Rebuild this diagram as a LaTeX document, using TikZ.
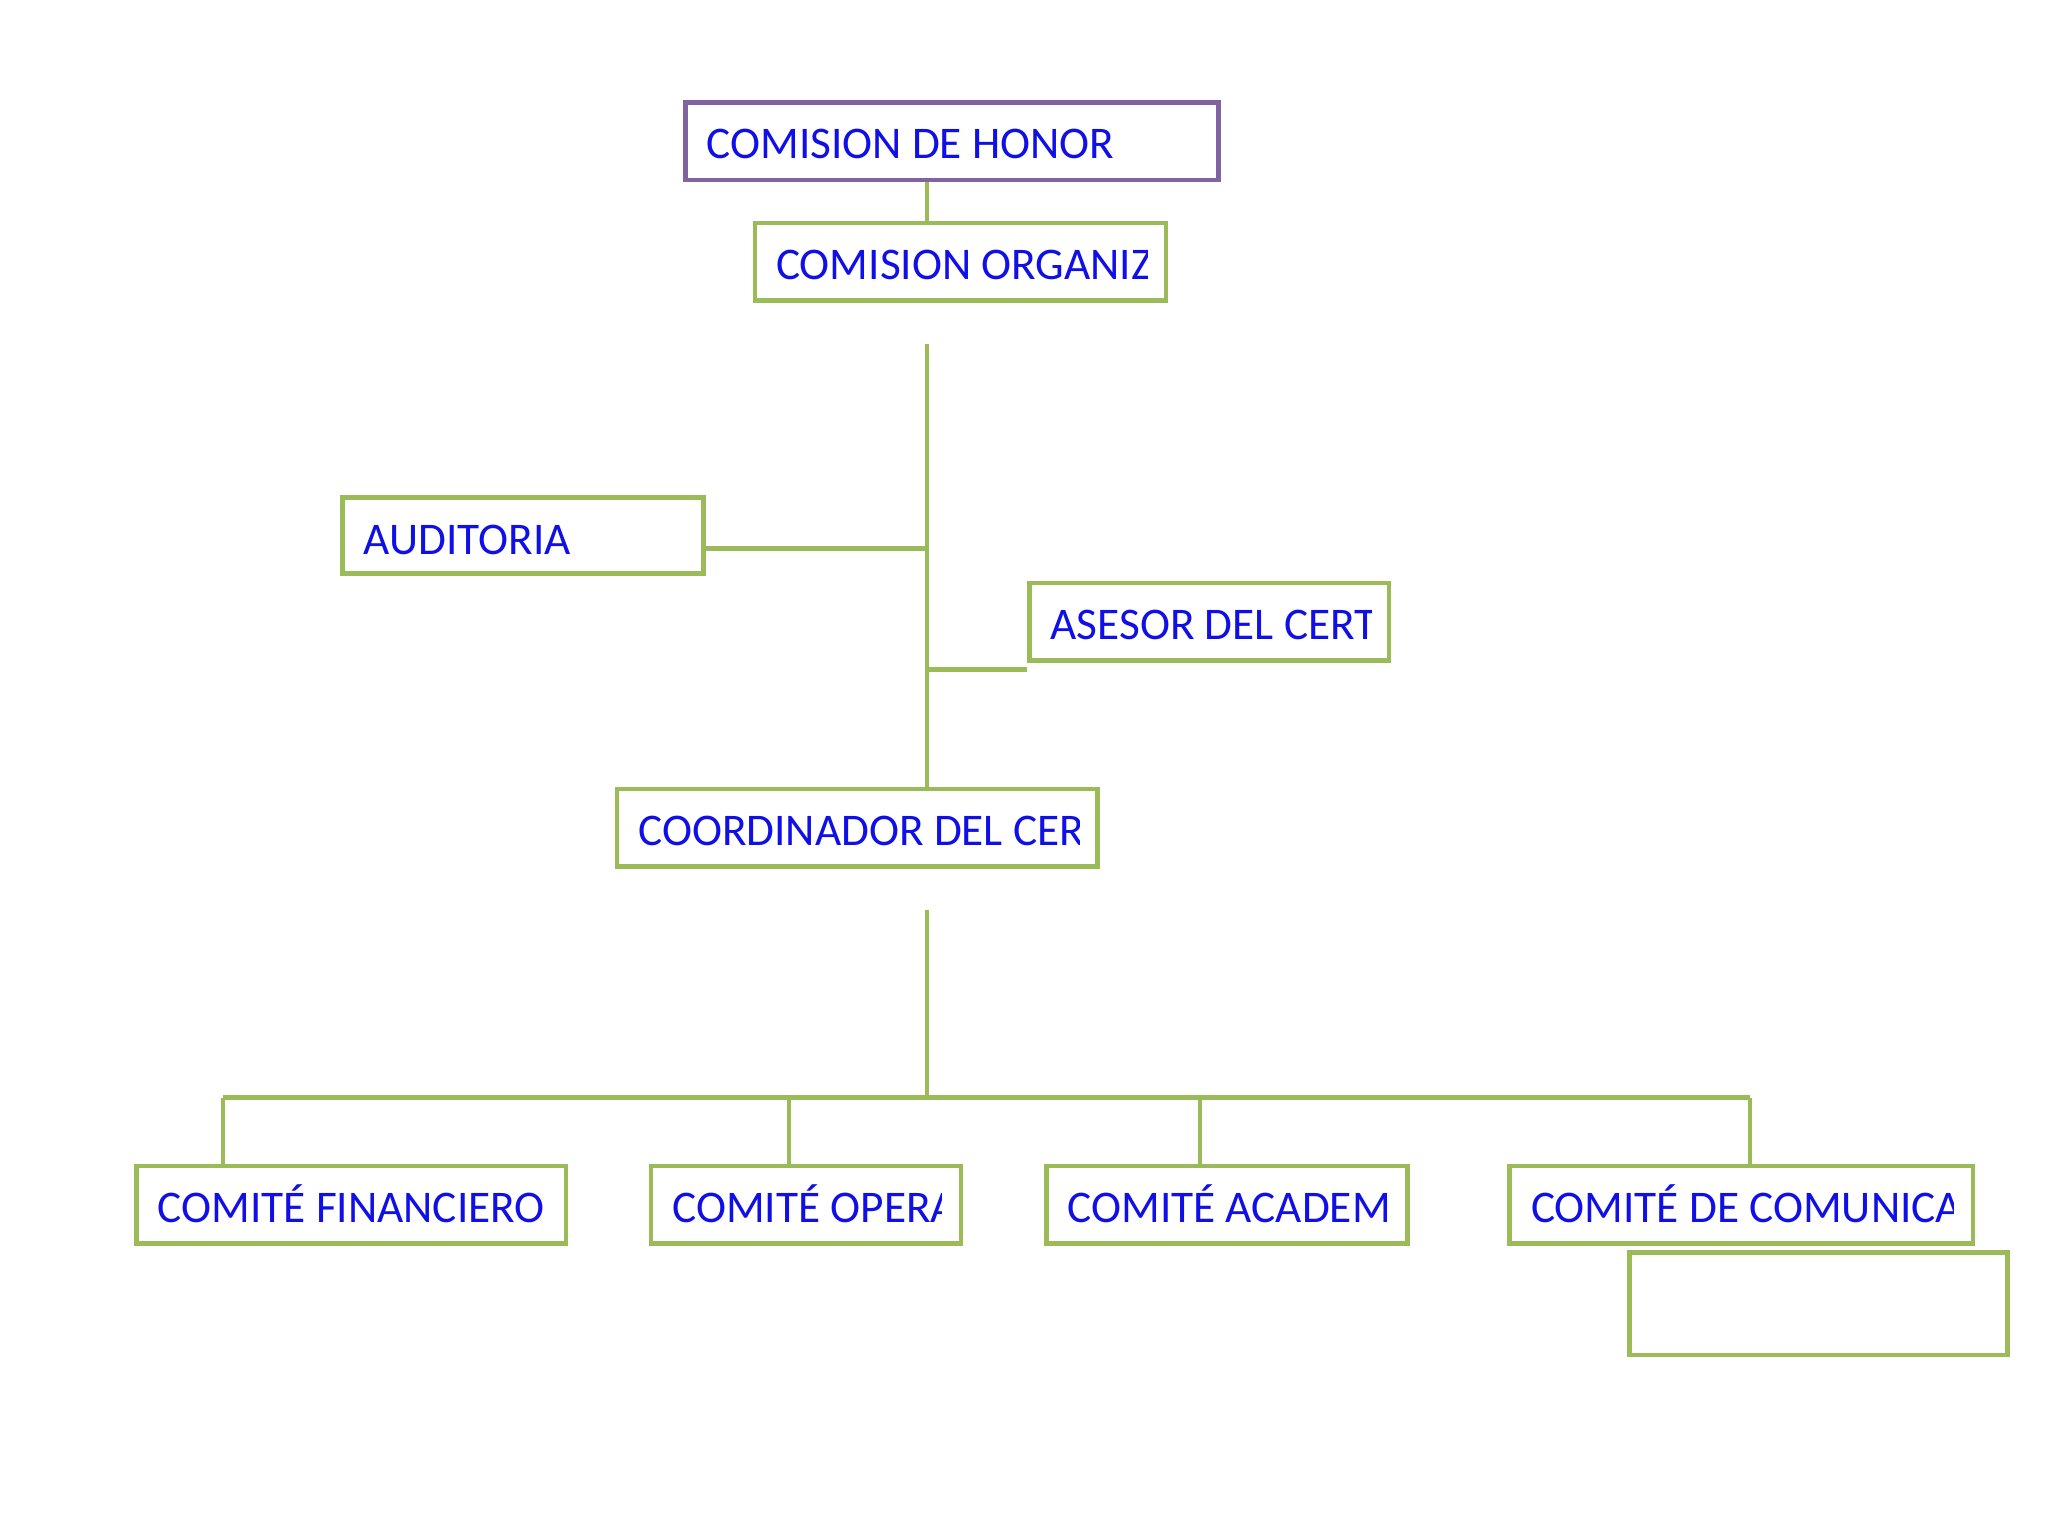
\documentclass[tikz,border=0pt]{standalone}
\usepackage{fontspec}
\setmainfont{Carlito}
\definecolor{gr}{RGB}{155,187,89}
\definecolor{pu}{RGB}{128,100,162}
\definecolor{tx}{RGB}{16,16,230}
\begin{document}
\begin{tikzpicture}[x=1pt,y=-1pt,
  box/.style={draw=gr,line width=3.5pt,rectangle,inner sep=0},
  ln/.style={draw=gr,line width=3.5pt},
  lbl/.style={anchor=base west,text=tx,font=\fontsize{34.5}{34.5}\selectfont,inner sep=0}]
\useasboundingbox (0,0) rectangle (1560,1170);
\newcommand\bx[5]{% name, x1,y1,x2,y2
  \node[box,minimum width={#4-#2},minimum height={#5-#3}] (#1) at ({(#2+#4)/2},{(#3+#5)/2}) {};}
\newcommand\tx[5]{% x1, baseline, clipx, ytop, text
  \begin{scope}\clip (#1,#4) rectangle (#3,{#4+60});
  \node[lbl] at (#1+16,#2) {#5};\end{scope}}
\bx{org}{575}{170}{888}{229}
\bx{aud}{261}{379}{536}{437}
\bx{ase}{784}{444}{1058}{503}
\bx{coo}{470}{601}{836}{660}
\bx{fin}{104}{888}{431}{947}
\bx{ope}{496}{888}{732}{947}
\bx{aca}{797}{888}{1072}{947}
\bx{com}{1150}{888}{1503}{947}
\bx{emp}{1241}{954}{1529}{1032}
\node[box,draw=pu,minimum width=406,minimum height=59] (honor) at (725,107.5) {};
\tx{522}{121}{928}{80}{COMISION DE HONOR}
\tx{575}{213}{874}{172}{COMISION ORGANIZADORA}
\tx{261}{422}{536}{381}{AUDITORIA}
\tx{784}{487}{1045}{446}{ASESOR DEL CERTAMEN}
\tx{470}{644}{822}{603}{COORDINADOR DEL CERTAMEN}
\tx{104}{931}{431}{890}{COMITÉ FINANCIERO}
\tx{496}{931}{717}{890}{COMITÉ OPERATIVO}
\tx{797}{931}{1057}{890}{COMITÉ ACADEMICO}
\tx{1150}{931}{1488}{890}{COMITÉ DE COMUNICACIONES}
\coordinate (a1) at (706,262); \coordinate (a2) at (706,418);
\coordinate (a3) at (706,510); \coordinate (b1) at (706,693);
\coordinate (b2) at (706,836); \coordinate (l) at (170,836); \coordinate (r) at (1333,836);
\draw[ln] (honor.south -| 706,0) -- (org.north -| 706,0);
\draw[ln] (a1) -- (coo.north -| 706,0);
\draw[ln] (a2) -- (aud.east |- a2);
\draw[ln] (a3) -- (ase.west |- a3);
\draw[ln] (b1) -- (b2);
\draw[ln] (l) -- (r);
\draw[ln] (l) -- (fin.north -| l);
\draw[ln] (601,836) -- (ope.north -| 601,0);
\draw[ln] (914,836) -- (aca.north -| 914,0);
\draw[ln] (r) -- (com.north -| r);
\end{tikzpicture}
\end{document}
